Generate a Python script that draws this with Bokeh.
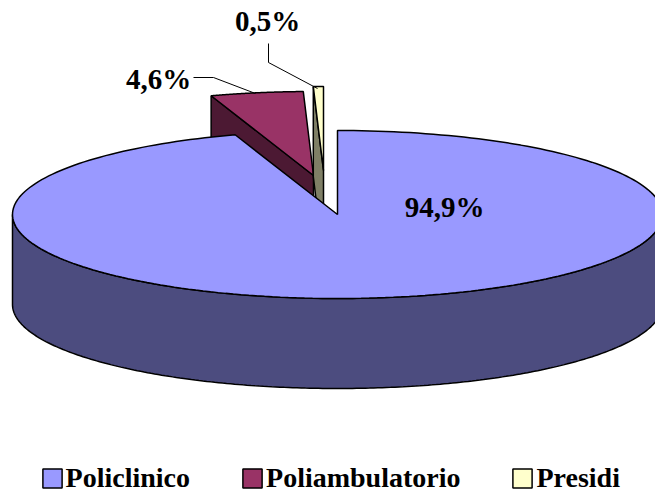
import numpy as np
from bokeh.embed import file_html
from bokeh.models import Legend, LegendItem, Range1d
from bokeh.plotting import figure
from bokeh.resources import INLINE
from bokeh.core.properties import value

categories = ["Policlinico", "Poliambulatorio", "Presidi"]
shares = [94.9, 4.6, 0.5]
labels = ["94,9%", "4,6%", "0,5%"]
top_colors = ["#9999FF", "#993366", "#FFFFCC"]
wall_colors = ["#4C4C7F", "#4C1933", "#7F7F66"]

CX, CY, RX, RY, DEPTH = 337, 214, 325, 84, 90
OFFSETS = [(0, 0), (-24, -39), (-14, -44)]
FONT = "Liberation Serif"
W, H = 655, 496

p = figure(width=W, height=H, output_backend="svg", toolbar_location=None,
           x_range=Range1d(0, W), y_range=Range1d(H, 0),
           min_border=0, outline_line_color=None)
p.axis.visible = False
p.grid.visible = False
p.background_fill_color = "#FFFFFF"

fractions = np.cumsum([0] + shares) / sum(shares)


def point(theta, off=(0, 0), drop=0):
    return (CX + off[0] + RX * np.sin(theta), CY + off[1] + drop - RY * np.cos(theta))


def wedge(i):
    t = np.linspace(fractions[i], fractions[i + 1], 240) * 2 * np.pi
    x, y = point(t, OFFSETS[i])
    ax, ay = CX + OFFSETS[i][0], CY + OFFSETS[i][1]
    return np.r_[ax, x, ax], np.r_[ay, y, ay]


tops = {}
# Exploded slices go first: their walls disappear behind the large slice.
for i in (1, 2):
    ax, ay = CX + OFFSETS[i][0], CY + OFFSETS[i][1]
    ex, ey = point(fractions[i] * 2 * np.pi, OFFSETS[i])
    p.patch([ex, ax, ax, ex], [ey, ay, ay + DEPTH, ey + DEPTH],
            fill_color=wall_colors[i], line_color="black", line_width=1.5)
    x, y = wedge(i)
    tops[i] = p.patch(x, y, fill_color=top_colors[i], line_color="black", line_width=1.5)

# Front wall of the large slice
t = np.linspace(np.pi / 2, 3 * np.pi / 2, 240)
ux, uy = point(t)
lx, ly = point(t, drop=DEPTH)
p.patch(np.r_[ux, lx[::-1]], np.r_[uy, ly[::-1]],
        fill_color=wall_colors[0], line_color="black", line_width=1.5)
x, y = wedge(0)
tops[0] = p.patch(x, y, fill_color=top_colors[0], line_color="black", line_width=1.5)

# Leader lines
p.line([193, 213, 255], [77, 77, 93], line_color="black", line_width=1)
p.line([268, 268, 317], [43, 62, 88], line_color="black", line_width=1)

p.text([444, 158, 267], [206, 78, 20], text=labels, text_font=value(FONT),
       text_font_style="bold", text_font_size="29px", text_color="black",
       text_align="center", text_baseline="middle")

legend = Legend(items=[LegendItem(label=categories[i], renderers=[tops[i]]) for i in range(3)],
                orientation="horizontal", location=(39.6, 2),
                label_text_font=FONT, label_text_font_style="bold",
                label_text_font_size="28px", label_text_color="black",
                glyph_width=24, glyph_height=24, label_standoff=2, spacing=50,
                padding=0, margin=0, border_line_color=None,
                background_fill_alpha=0, label_height=24)
p.add_layout(legend, "center")

open("out.html", "w").write(file_html(p, INLINE))
